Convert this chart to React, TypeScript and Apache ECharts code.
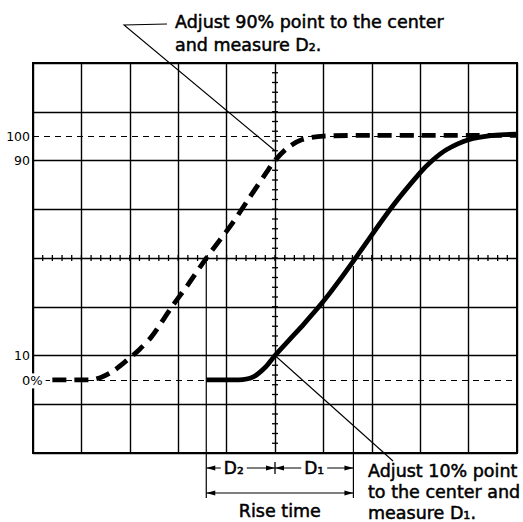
import React, { useEffect, useRef } from "react";
import * as echarts from "echarts";

// axis ranges (x in graticule divisions, y in percent of pulse amplitude)
const xRange = [0, 10];
const yRange = [-30, 130];
const yLabelledTicks = [10, 90];
const referenceLevels = [0, 100];
const referenceLabels = ["0%", "100"];

// dashed trace: 90% point adjusted to the centre
const earlyTraceX = [0.4, 1.15, 1.4, 1.65, 1.94, 2.2, 2.46, 2.87, 3.2, 3.6, 4.11, 4.48, 4.82, 5.0, 5.25, 5.55, 6.0, 7.0, 8.0, 9.0, 10.0];
const earlyTraceY = [0, 0, 1, 3.5, 8, 12.5, 18, 30, 39, 50.5, 64, 75, 85, 90, 95, 98.5, 100, 100.3, 100.3, 100.3, 100.3];

// solid trace: 10% point adjusted to the centre
const lateTraceX = [3.58, 4.25, 4.55, 4.8, 5.0, 5.3, 5.6, 5.97, 6.3, 6.7, 7.42, 8.0, 8.25, 8.55, 9.0, 9.5, 10.0];
const lateTraceY = [0, 0, 1.2, 5.2, 10, 16.5, 23, 31.5, 40, 51, 71, 85, 90, 94.5, 98.5, 100.3, 100.8];

// annotation anchors (data units)
const centreX = 5;
const early50X = 3.58;
const late50X = 6.62;
const tenPercentPoint = [5, 10];
const ninetyLeaderEnd = [5, 94];

const topNote = ["Adjust 90% point to the center", "and measure D\u2082."];
const bottomNote = ["Adjust 10% point", "to the center and", "measure D\u2081."];
const bracketLabels = ["D\u2082", "D\u2081", "Rise time"];

const FONT = '"DejaVu Sans", "Liberation Sans", sans-serif';

export default function App() {
  const ref = useRef<HTMLDivElement>(null);

  useEffect(() => {
    const chart = echarts.init(ref.current as HTMLDivElement, null, { renderer: "svg" });
    const early = earlyTraceX.map((x, i) => [x, earlyTraceY[i]]);
    const late = lateTraceX.map((x, i) => [x, lateTraceY[i]]);

    chart.setOption({
      animation: false,
      backgroundColor: "#fff",
      grid: {
        left: 33,
        top: 63,
        width: 484,
        height: 390,
        show: true,
        borderColor: "#000",
        borderWidth: 2,
        backgroundColor: "transparent",
      },
      xAxis: {
        type: "value",
        min: xRange[0],
        max: xRange[1],
        interval: 1,
        axisLine: { show: false },
        axisTick: { show: false },
        axisLabel: { show: false },
        splitLine: { show: true, lineStyle: { color: "#000", width: 1.4 } },
      },
      yAxis: {
        type: "value",
        min: yRange[0],
        max: yRange[1],
        interval: 20,
        axisLine: { show: false },
        axisTick: { show: false },
        axisLabel: {
          show: true,
          margin: 3,
          color: "#000",
          fontFamily: FONT,
          fontSize: 12.5,
          formatter: (v: number) => (yLabelledTicks.includes(Math.round(v)) ? String(Math.round(v)) : ""),
        },
        splitLine: { show: true, lineStyle: { color: "#000", width: 1.4 } },
      },
      series: [
        {
          type: "line",
          data: early,
          smooth: 0.3,
          symbol: "none",
          lineStyle: { color: "#000", width: 4.8, type: [14, 8], cap: "butt" },
          z: 5,
        },
        {
          type: "line",
          data: late,
          smooth: 0.3,
          symbol: "none",
          lineStyle: { color: "#000", width: 4.8 },
          z: 6,
          markLine: {
            silent: true,
            symbol: "none",
            label: { show: false },
            lineStyle: { color: "#000", width: 1, type: [6, 5] },
            data: referenceLevels.map((v) => ({ yAxis: v })),
          },
        },
      ],
    });

    const P = (x: number, y: number) => chart.convertToPixel({ xAxisIndex: 0, yAxisIndex: 0 }, [x, y]) as number[];
    const els: any[] = [];
    const line = (x1: number, y1: number, x2: number, y2: number, w = 1.2) =>
      els.push({ type: "line", z: 100, shape: { x1, y1, x2, y2 }, style: { stroke: "#000", lineWidth: w } });
    const arrow = (tipX: number, y: number, dir: number) =>
      els.push({
        type: "polygon",
        z: 101,
        shape: { points: [[tipX, y], [tipX - dir * 9, y - 2.6], [tipX - dir * 9, y + 2.6]] },
        style: { fill: "#000" },
      });
    const text = (t: string, x: number, y: number, size: number, align = "left", bg = false, heavy = true) =>
      els.push({
        type: "text",
        z: 102,
        x,
        y,
        style: {
          text: t,
          fill: "#000",
          stroke: heavy ? "#000" : undefined,
          lineWidth: heavy ? 0.5 : 0,
          font: `${size}px ${FONT}`,
          textAlign: align,
          textVerticalAlign: "middle",
          align,
          verticalAlign: "middle",
          backgroundColor: bg ? "#fff" : undefined,
          padding: bg ? [1, 3] : undefined,
        },
      });

    // minor ticks on the centre lines
    const [cx] = P(centreX, 0);
    const [, cy] = P(0, 50);
    for (let v = yRange[0]; v <= yRange[1] + 1e-6; v += 4) {
      const [, py] = P(centreX, v);
      line(cx - 3, py, cx + 3, py, 1.3);
    }
    for (let u = xRange[0]; u <= xRange[1] + 1e-6; u += 0.2) {
      const [px] = P(u, 50);
      line(px, cy - 3, px, cy + 3, 1.3);
    }

    // reference level labels
    const [, y100] = P(0, referenceLevels[1]);
    const [, y0] = P(0, referenceLevels[0]);
    text(referenceLabels[1], 30, y100, 12.5, "right", false, false);
    text(referenceLabels[0], 19, y0 + 1, 13, "left", true, false);

    // top leader and note
    const [ex, ey] = P(ninetyLeaderEnd[0], ninetyLeaderEnd[1]);
    els.push({
      type: "polyline",
      z: 100,
      shape: { points: [[167, 24], [124, 25], [ex, ey]] },
      style: { stroke: "#000", lineWidth: 1.1, fill: null },
    });
    text(topNote[0], 175, 22, 17.5);
    text(topNote[1], 175, 45, 17.5);

    // bottom leader and note
    const [tx, ty] = P(tenPercentPoint[0], tenPercentPoint[1]);
    line(tx, ty, 393, 461, 1.1);
    text(bottomNote[0], 368, 471, 17.5);
    text(bottomNote[1], 368, 492, 17.5);
    text(bottomNote[2], 368, 513, 17.5);

    // D2 / D1 / rise time brackets
    const [x1] = P(early50X, 50);
    const [x2] = P(late50X, 50);
    const yD = 468;
    const yR = 493;
    line(x1, cy, x1, 498, 1.2);
    line(x2, cy + 8, x2, 498, 1.2);
    line(x1, yD, x2, yD, 1.2);
    line(cx, yD - 6, cx, yD + 6, 1.3);
    arrow(x1, yD, -1);
    arrow(cx, yD, 1);
    arrow(cx, yD, -1);
    arrow(x2, yD, 1);
    text(bracketLabels[0], x1 + (cx - x1) * 0.4, yD, 17, "center", true);
    text(bracketLabels[1], (cx + x2) / 2, yD, 17, "center", true);
    line(x1, yR, x2, yR, 1.2);
    arrow(x1, yR, -1);
    arrow(x2, yR, 1);
    text(bracketLabels[2], (x1 + x2) / 2, 511, 17.5, "center");

    chart.setOption({ graphic: { elements: els } });

    return () => chart.dispose();
  }, []);

  return (
    <div
      ref={ref}
      style={{ position: "fixed", left: 0, top: 0, width: 523, height: 522, background: "#fff" }}
    />
  );
}
